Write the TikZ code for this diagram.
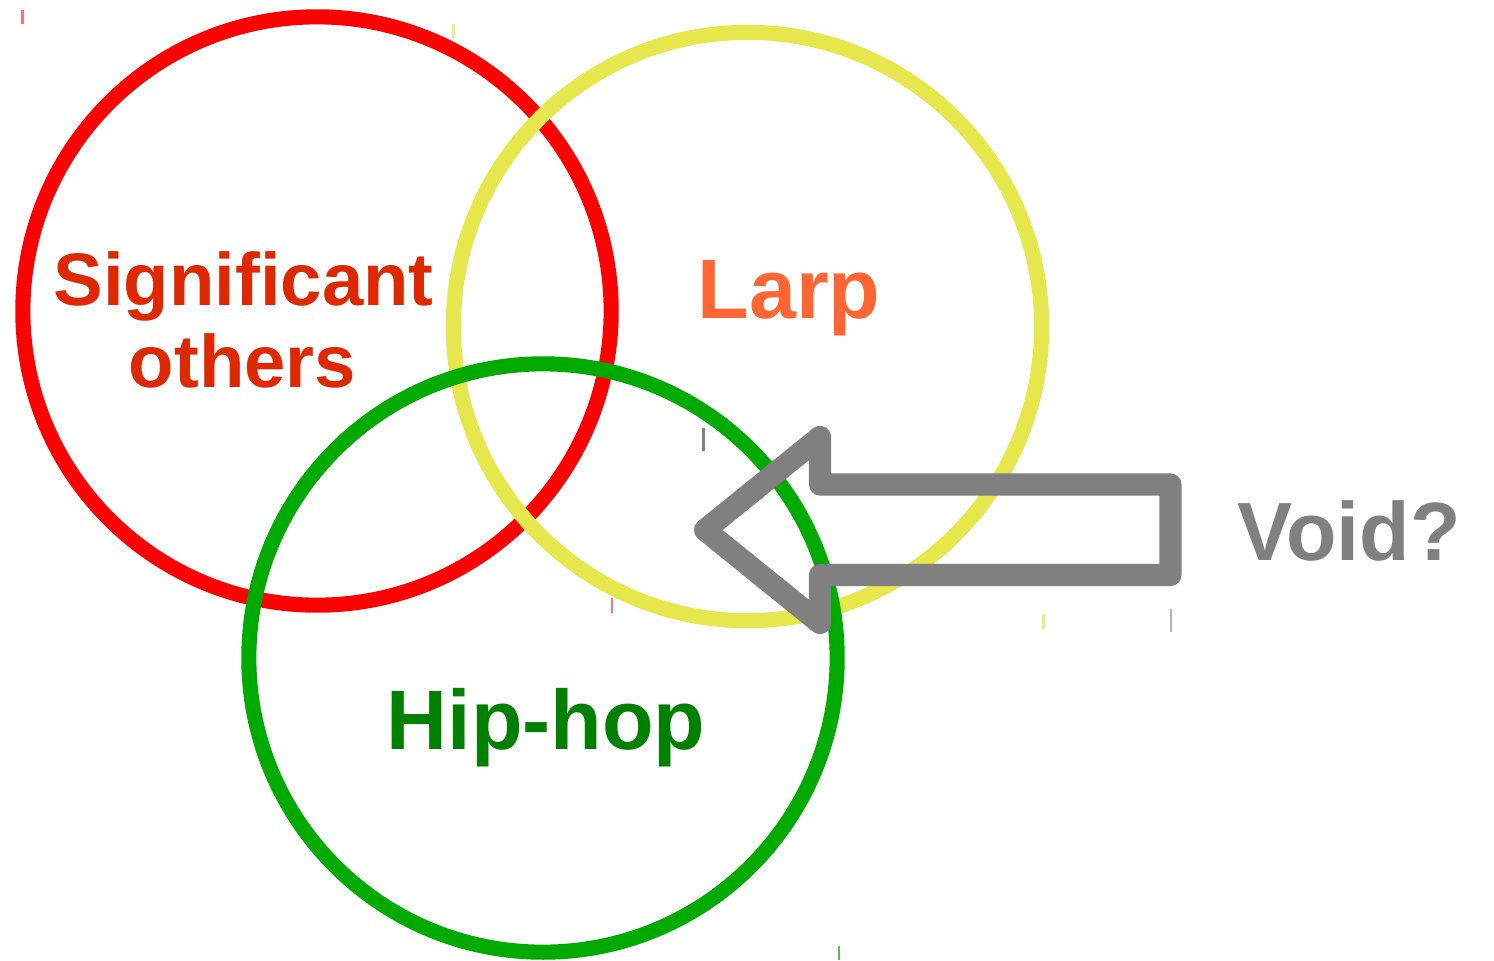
\documentclass[tikz,border=0pt]{standalone}
\usepackage{fontspec}
\setmainfont{Liberation Sans}
\definecolor{ringred}{RGB}{255,0,0}
\definecolor{ringyellow}{RGB}{230,230,77}
\definecolor{ringgreen}{RGB}{0,170,0}
\definecolor{sigtext}{RGB}{221,40,0}
\definecolor{larptext}{RGB}{255,102,51}
\definecolor{hiptext}{RGB}{0,128,0}
\definecolor{voidgray}{RGB}{128,128,128}
\begin{document}
\begin{tikzpicture}[x=0.01cm, y=-0.01cm,
  ring/.style={circle, draw, line width=4.3pt, minimum size=5.88cm, inner sep=0pt},
  lbl/.style={anchor=base, inner sep=0pt, font=\bfseries\fontsize{24pt}{28pt}\selectfont},
  siglbl/.style={lbl, sigtext, font=\bfseries\fontsize{21.15pt}{26pt}\selectfont},
  tick/.style={line width=0.6pt}]
\useasboundingbox (0,0) rectangle (1494,960);
% the three sets
\node [ring, ringred] (red) at (317,311) {};
\node [ring, ringyellow] (yellow) at (747.5,326.5) {};
\node [ring, ringgreen] (green) at (543,658) {};
% labels
\node [siglbl] (sig) at (243.5,305) {Significant};
\node [siglbl] (oth) at (242.5,387) {others};
\node [lbl, larptext] (larp) at (789,318) {Larp};
\node [lbl, hiptext] (hip) at (546,749) {Hip-hop};
\node [lbl, voidgray, font=\bfseries\fontsize{23.5pt}{28pt}\selectfont] (void) at (1349,560) {Void?};
% block arrow
\draw [voidgray, line width=6.3pt, line join=round]
  (705,530) -- (820,437) -- (820,484.5) -- (1170.5,484.5)
  -- (1170.5,575) -- (820,575) -- (820,623) -- cycle;
% stray handle marks
\draw [tick, ringred!55] (22.5,10) -- (22.5,24);
\draw [tick, ringyellow!70] (453.5,24) -- (453.5,38);
\draw [tick, voidgray] (703.5,428) -- (703.5,451);
\draw [tick, ringred!55] (612,598) -- (612,613);
\draw [tick, ringyellow!70] (1043.5,614) -- (1043.5,629);
\draw [tick, voidgray!60] (1171,609) -- (1171,632);
\draw [tick, ringgreen!70] (839,946) -- (839,960);
\end{tikzpicture}
\end{document}
